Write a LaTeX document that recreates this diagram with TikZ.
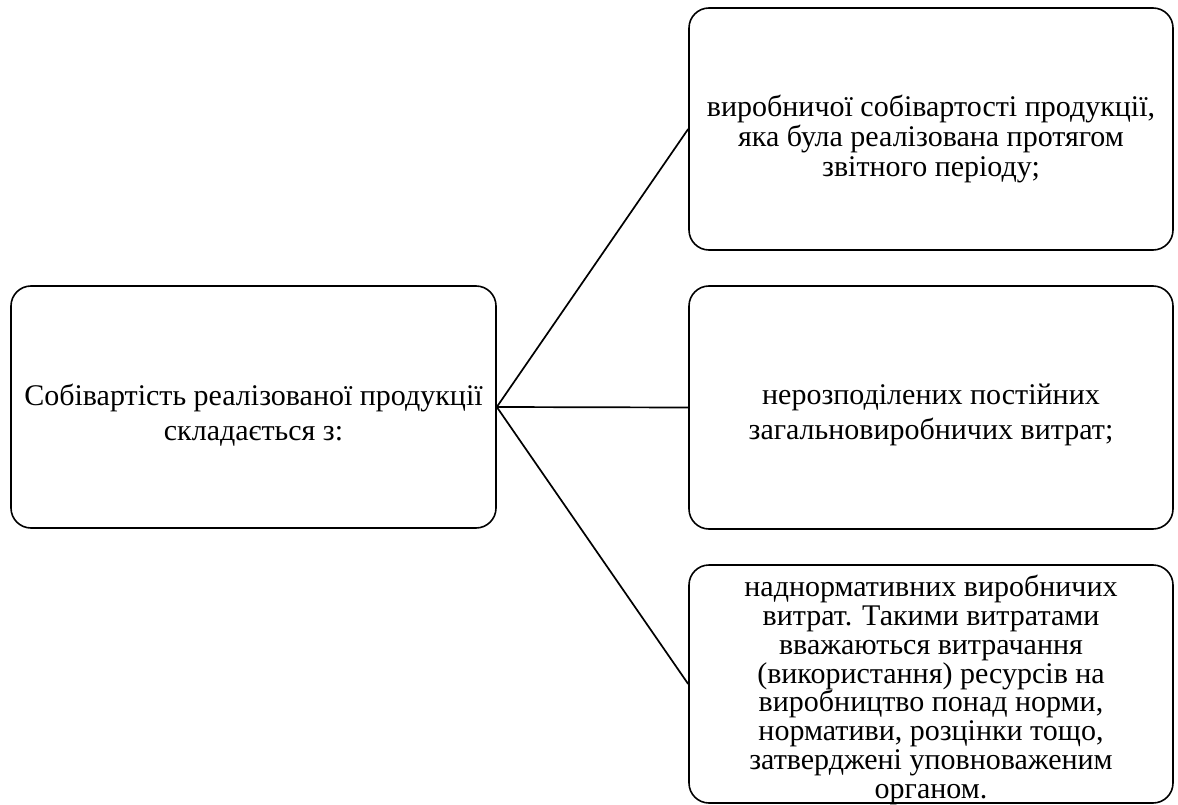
\documentclass[tikz,border=0pt]{standalone}
\usepackage{fontspec}
\setmainfont{Liberation Serif}
\begin{document}
\begin{tikzpicture}[x=1pt,y=-1pt,
  boxst/.style={draw=black, line width=1.6pt, rounded corners=20pt, inner sep=0pt},
  txt/.style={align=center, inner sep=0pt, font=\fontsize{30}{#1}\selectfont},
  txt/.default=30,
  conn/.style={draw=black, line width=1.7pt}]
\useasboundingbox (0,0) rectangle (1178,805);
\node[boxst, minimum width=485pt, minimum height=242pt] (L) at (253.5,407) {};
\node[boxst, minimum width=484pt, minimum height=242pt] (A) at (931,129) {};
\node[boxst, minimum width=484pt, minimum height=243pt] (B) at (931,407.5) {};
\node[boxst, minimum width=484pt, minimum height=238pt] (C) at (931,684) {};
\node[txt=35] (Lt) at ([yshift=-8pt]L.center)
  {Собівартість реалізованої продукції\\складається з:};
\node[txt=30] (At) at ([yshift=-10pt]A.center)
  {виробничої собівартості продукції,\\яка була реалізована протягом\\звітного періоду;};
\node[txt=35] (Bt) at ([yshift=-7.5pt]B.center)
  {нерозподілених постійних\\загальновиробничих витрат;};
\node[txt=28.8] (Ct) at ([yshift=-6pt]C.center)
  {наднормативних виробничих\\витрат. Такими витратами\\вважаються витрачання\\(використання) ресурсів на\\виробництво понад норми,\\нормативи, розцінки тощо,\\затверджені уповноваженим\\органом.};
\draw[conn] (L.east) -- (A.west);
\draw[conn] (L.east) -- (B.west);
\draw[conn] (L.east) -- (C.west);
\end{tikzpicture}
\end{document}
